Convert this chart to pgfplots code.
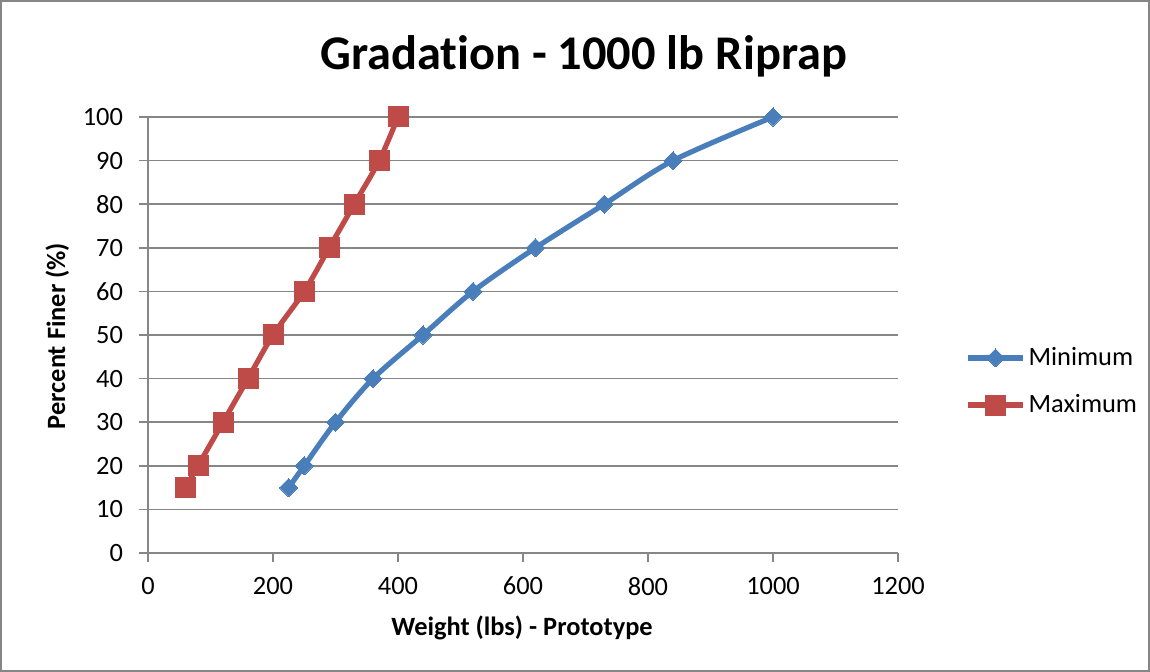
\documentclass[border=0pt]{standalone}
\usepackage{pgfplots}
\pgfplotsset{compat=1.18}
\usepackage{fontspec}
\setmainfont{Carlito}[Ligatures={NoCommon}]
\definecolor{minblue}{HTML}{4A7EBB}
\definecolor{maxred}{HTML}{BE4B48}
\definecolor{gridgray}{HTML}{868686}
\begin{document}
\begin{tikzpicture}
\useasboundingbox (0,0) rectangle (575pt,336pt);
\draw[gridgray, line width=0.8pt] (0.5pt,0.5pt) rectangle (574.5pt,335.5pt);
\begin{axis}[
  at={(74pt,59.5pt)}, anchor=south west,
  scale only axis, width=375pt, height=218pt,
  xmin=0, xmax=1200, ymin=0, ymax=100,
  xtick={0,200,...,1200}, ytick={0,10,...,100},
  axis x line*=bottom, axis y line*=left,
  axis line style={gridgray, line width=0.8pt, -},
  ymajorgrids, grid style={gridgray, line width=0.8pt},
  tick align=outside, major tick length=4.5pt,
  tick style={gridgray, line width=0.8pt},
  tick label style={font=\fontsize{13.2}{15}\selectfont, black},
  xticklabel style={yshift=-4pt},
  yticklabel style={xshift=-4.5pt},
  /pgf/number format/assume math mode=true,
  /pgf/number format/1000 sep={},
  legend cell align=left,
  legend style={draw=none, fill=none, at={(1.0893,0.3933)}, anchor=west,
    font=\fontsize{13.2}{15}\selectfont, row sep=10pt, inner sep=0pt,
    nodes={inner sep=1.5pt}},
  legend image code/.code={
    \draw[#1, mark repeat=2, mark phase=2] plot coordinates {(0pt,0pt) (13.75pt,0pt) (27.5pt,0pt)};
  },
]
\addplot[minblue, line width=2.6pt, smooth, mark=square*, mark size=3.2pt,
  mark options={rotate=45, solid, fill=minblue, line width=0pt}] coordinates {
  (225,15) (250,20) (300,30) (360,40) (440,50) (520,60) (620,70) (730,80) (840,90) (1000,100)};
\addlegendentry{Minimum}
\addplot[maxred, line width=2.6pt, smooth, mark=square*, mark size=5pt,
  mark options={solid, fill=maxred, line width=0pt}] coordinates {
  (60,15) (80,20) (120,30) (160,40) (200,50) (250,60) (290,70) (330,80) (370,90) (400,100)};
\addlegendentry{Maximum}
\end{axis}
\node[anchor=base, font=\bfseries\fontsize{24.2}{29}\selectfont] at (291.75pt,301pt) {Gradation - 1000 lb Riprap};
\node[anchor=base, font=\bfseries\fontsize{13.2}{15}\selectfont] at (261pt,18pt) {Weight (lbs) - Prototype};
\node[anchor=base, rotate=90, font=\bfseries\fontsize{13.2}{15}\selectfont] at (32.5pt,168pt) {Percent Finer (\%)};
\end{tikzpicture}
\end{document}
